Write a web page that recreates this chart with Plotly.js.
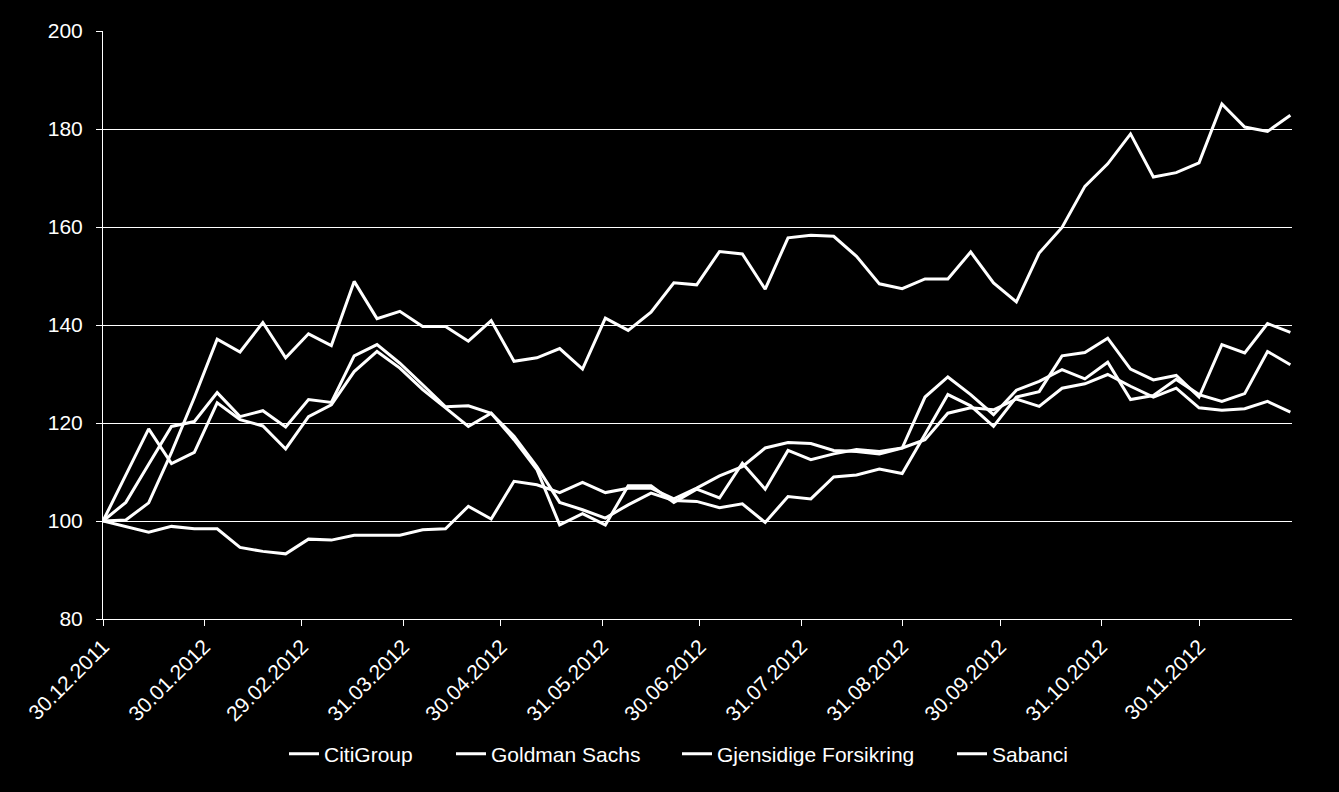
<!DOCTYPE html>
<html>
<head>
<meta charset="utf-8">
<script src="https://cdn.plot.ly/plotly-3.0.1.min.js"></script>
<style>
  html, body { margin: 0; padding: 0; background: #000; }
  #chart { width: 1339px; height: 792px; }
</style>
</head>
<body>
<div id="chart"></div>
<script>
const dates = [
  "2011-12-30","2012-01-06","2012-01-13","2012-01-20","2012-01-27","2012-02-03","2012-02-10","2012-02-17","2012-02-24",
  "2012-03-02","2012-03-09","2012-03-16","2012-03-23","2012-03-30","2012-04-06","2012-04-13","2012-04-20","2012-04-27",
  "2012-05-04","2012-05-11","2012-05-18","2012-05-25","2012-06-01","2012-06-08","2012-06-15","2012-06-22","2012-06-29",
  "2012-07-06","2012-07-13","2012-07-20","2012-07-27","2012-08-03","2012-08-10","2012-08-17","2012-08-24","2012-08-31",
  "2012-09-07","2012-09-14","2012-09-21","2012-09-28","2012-10-05","2012-10-12","2012-10-19","2012-10-26",
  "2012-11-02","2012-11-09","2012-11-16","2012-11-23","2012-11-30","2012-12-07","2012-12-14","2012-12-21","2012-12-28"
];

const citigroup = [
  100, 109.4, 118.8, 111.7, 114.0, 124.1, 120.7, 119.4, 114.7, 121.3, 123.7, 130.5, 134.6, 131.2, 126.8, 123.1, 119.3, 122.0,
  116.6, 110.5, 99.2, 101.5, 99.2, 107.2, 107.2, 103.8, 106.5, 104.7, 111.8, 106.5, 114.4, 112.5, 113.7, 114.6, 114.2, 114.9,
  125.3, 129.4, 125.8, 121.7, 126.7, 128.5, 130.9, 129.0, 132.4, 124.8, 125.6, 128.9, 125.8, 124.4, 126.0, 134.6, 131.9
];

const goldman = [
  100, 103.8, 111.6, 119.3, 120.3, 126.2, 121.3, 122.5, 119.2, 124.8, 124.2, 133.7, 136.0, 132.2, 127.8, 123.3, 123.5, 122.0,
  117.3, 111.1, 103.8, 102.3, 100.6, 103.3, 105.7, 104.2, 104.0, 102.7, 103.5, 99.7, 105.0, 104.5, 109.0, 109.4, 110.6, 109.7,
  117.7, 125.8, 123.5, 119.3, 125.3, 126.4, 133.7, 134.4, 137.3, 131.0, 128.8, 129.7, 125.3, 136.0, 134.3, 140.3, 138.5
];

const gjensidige = [
  100, 98.9, 97.7, 98.9, 98.4, 98.4, 94.6, 93.8, 93.3, 96.3, 96.1, 97.1, 97.1, 97.1, 98.2, 98.4, 103.0, 100.4,
  108.1, 107.4, 105.8, 107.9, 105.8, 106.7, 106.7, 104.5, 106.7, 109.2, 111.1, 114.9, 116.0, 115.8, 114.4, 114.2, 113.7, 114.9,
  116.6, 122.0, 123.1, 122.7, 124.9, 123.4, 127.1, 128.0, 129.9, 127.5, 125.3, 127.1, 123.1, 122.6, 122.9, 124.4, 122.2
];

const sabanci = [
  100, 100.2, 103.7, 114.0, 125.2, 137.1, 134.5, 140.5, 133.3, 138.2, 135.8, 148.9, 141.3, 142.8, 139.7, 139.7, 136.7, 140.9,
  132.6, 133.3, 135.2, 131.0, 141.4, 138.9, 142.6, 148.6, 148.2, 155.0, 154.5, 147.3, 157.8, 158.3, 158.1, 154.0, 148.4, 147.4,
  149.4, 149.4, 154.9, 148.6, 144.7, 154.7, 159.9, 168.3, 172.9, 179.0, 170.2, 171.1, 173.1, 185.1, 180.4, 179.5, 182.8
];

const seriesNames = ["CitiGroup", "Goldman Sachs", "Gjensidige Forsikring", "Sabanci"];
const seriesValues = [citigroup, goldman, gjensidige, sabanci];

const tickDates = ["2011-12-30","2012-01-30","2012-02-29","2012-03-31","2012-04-30","2012-05-31","2012-06-30",
                   "2012-07-31","2012-08-31","2012-09-30","2012-10-31","2012-11-30"];
const tickLabels = ["30.12.2011","30.01.2012","29.02.2012","31.03.2012","30.04.2012","31.05.2012","30.06.2012",
                    "31.07.2012","31.08.2012","30.09.2012","31.10.2012","30.11.2012"];

const FONT = "Liberation Sans, Arial, sans-serif";
const FS = 21;
const W = 1339, H = 792;

// one legend per series so that the entries can be spaced like the original
const legendIds = ["legend", "legend2", "legend3", "legend4"];
const legendLeftPx = [284, 451, 677, 952];

const traces = seriesNames.map((name, k) => ({
  type: "scatter",
  mode: "lines",
  name: name,
  x: dates,
  y: seriesValues[k],
  line: { color: "#ffffff", width: 3 },
  legend: legendIds[k],
  hoverinfo: "skip"
}));

const layout = {
  width: W,
  height: H,
  paper_bgcolor: "#000000",
  plot_bgcolor: "#000000",
  font: { family: FONT, size: FS, color: "#ffffff" },
  margin: { l: 103, r: 47, t: 31, b: 173, pad: 0 },
  showlegend: true,
  xaxis: {
    type: "date",
    range: ["2011-12-30", "2012-12-28 12:00"],
    tickmode: "array",
    tickvals: tickDates,
    ticktext: tickLabels,
    tickangle: -45,
    ticks: "outside",
    ticklen: 6,
    tickwidth: 1,
    tickcolor: "#ffffff",
    showline: true,
    linecolor: "#ffffff",
    linewidth: 1,
    showgrid: false,
    zeroline: false,
    tickfont: { family: FONT, size: FS, color: "#ffffff" },
    fixedrange: true
  },
  yaxis: {
    range: [80, 200],
    dtick: 20,
    tick0: 80,
    ticks: "outside",
    ticklen: 6,
    tickwidth: 1,
    tickcolor: "#ffffff",
    showline: true,
    linecolor: "#ffffff",
    linewidth: 1,
    showgrid: true,
    gridcolor: "#ffffff",
    gridwidth: 1,
    zeroline: false,
    ticklabelstandoff: 9,
    tickfont: { family: FONT, size: FS, color: "#ffffff" },
    fixedrange: true
  },
  hovermode: false
};

legendIds.forEach((id, k) => {
  layout[id] = {
    orientation: "h",
    xref: "container", yref: "container",
    x: legendLeftPx[k] / W, xanchor: "left",
    y: (H - 754) / H, yanchor: "middle",
    font: { family: FONT, size: FS, color: "#ffffff" },
    bgcolor: "rgba(0,0,0,0)",
    borderwidth: 0,
    itemclick: false, itemdoubleclick: false
  };
});

Plotly.newPlot("chart", traces, layout, { displayModeBar: false, staticPlot: true });
</script>
</body>
</html>
